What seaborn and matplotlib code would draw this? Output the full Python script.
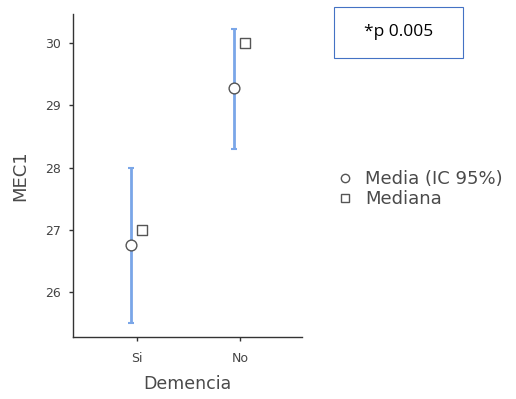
import numpy as np
import pandas as pd
import matplotlib
matplotlib.use("Agg")
import matplotlib.pyplot as plt
import seaborn as sns
from matplotlib.lines import Line2D
from matplotlib.patches import Rectangle

# Summary statistics of MEC1 by dementia group
groups = ["Si", "No"]
means = [26.75, 29.27]
ci_low = [25.50, 28.30]
ci_high = [28.00, 30.22]
medians = [27.0, 30.0]

df = pd.DataFrame({"Demencia": groups, "media": means, "lo": ci_low,
                   "hi": ci_high, "mediana": medians})

sns.set_theme(style="ticks")
plt.rcParams["font.family"] = ["DejaVu Sans"]

fig = plt.figure(figsize=(5.16, 3.99), dpi=100)
ax = fig.add_axes([73 / 516, 1 - 337 / 399, (302 - 73) / 516, (337 - 14) / 399])

pos = np.arange(len(groups))
grey = "#555555"
blue = "#7aa6e8"

# Confidence intervals around the mean
ax.errorbar(pos - 0.06, df["media"],
            yerr=[df["media"] - df["lo"], df["hi"] - df["media"]],
            fmt="none", ecolor=blue, elinewidth=2, capsize=2, capthick=1.5,
            zorder=1)

# Means and medians
sns.scatterplot(x=pos - 0.06, y=df["media"], ax=ax, marker="o", s=60,
                facecolor="white", edgecolor=grey, linewidth=1, zorder=3,
                legend=False)
sns.scatterplot(x=pos + 0.05, y=df["mediana"], ax=ax, marker="s", s=45,
                facecolor="white", edgecolor=grey, linewidth=1, zorder=3,
                legend=False)

ax.set_xlim(-0.62, 1.6)
ax.set_ylim(25.277, 30.466)
ax.set_xticks(pos)
ax.set_xticklabels(groups)
ax.set_yticks([26, 27, 28, 29, 30])
ax.tick_params(axis="both", labelsize=9, colors="#333333", length=3,
               width=1, labelcolor="#444444")
ax.tick_params(axis="x", pad=8)
ax.tick_params(axis="y", pad=6)
for side in ("left", "bottom"):
    ax.spines[side].set_color("#333333")
    ax.spines[side].set_linewidth(1)
sns.despine(ax=ax)
ax.set_xlabel("Demencia", fontsize=12.5, color="#4a4a4a", labelpad=7)
ax.set_ylabel("MEC1", fontsize=13, color="#4a4a4a", labelpad=11)

# Legend
handles = [
    Line2D([], [], marker="o", linestyle="none", markersize=6,
           markerfacecolor="white", markeredgecolor=grey),
    Line2D([], [], marker="s", linestyle="none", markersize=5.5,
           markerfacecolor="white", markeredgecolor=grey),
]
fig.legend(handles, ["Media (IC 95%)", "Mediana"], loc="center left",
           bbox_to_anchor=(320 / 516, 1 - 189 / 399), frameon=False,
           fontsize=13, handlelength=1, handletextpad=0.6,
           labelspacing=0.1, labelcolor="#4a4a4a")

# p-value annotation box
fig.patches.append(Rectangle((334 / 516, 1 - 58 / 399), 129 / 516, 51 / 399,
                             transform=fig.transFigure, facecolor="white",
                             edgecolor="#4472c4", linewidth=0.8))
fig.text(399 / 516, 1 - 32 / 399, "*p 0.005", ha="center", va="center",
         fontsize=12.5, color="black", family=["Open Sans", "DejaVu Sans"])

fig.savefig("out.png", dpi=100)
